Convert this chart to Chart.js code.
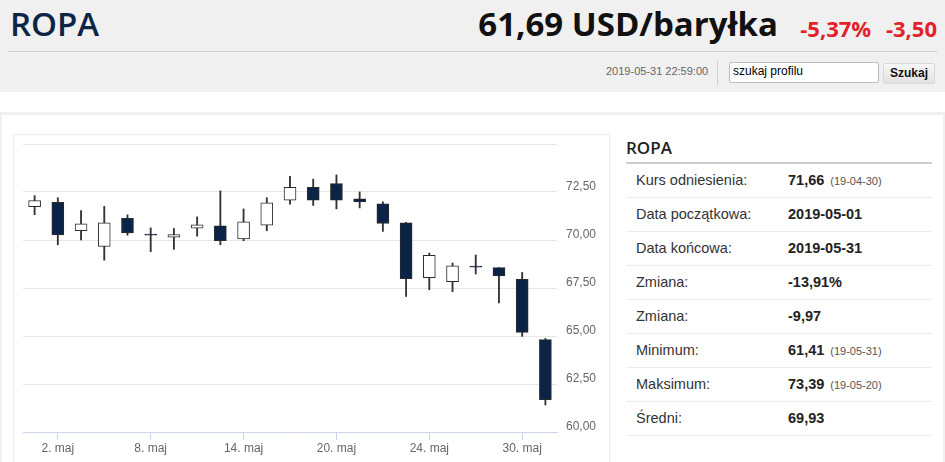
<!DOCTYPE html>
<html>
<head>
<meta charset="utf-8">
<script src="https://cdn.jsdelivr.net/npm/chart.js@4/dist/chart.umd.min.js"></script>
<style>
  body { margin: 0; width: 945px; height: 462px; overflow: hidden; background: #fff;
         font-family: "Liberation Sans", Arial, sans-serif; position: relative; }
  .abs { position: absolute; }
  #top { left: 0; top: 0; width: 945px; height: 92px; background: #f0f0f0; }
  #title { left: 10px; top: 0px; font: 600 33px "Open Sans", sans-serif; color: #0b2546; line-height: 48px; }
  #price { right: 167px; top: 0; font: 700 33px "Open Sans", sans-serif; color: #111; line-height: 48px; }
  #chg { right: 8px; top: 4px; font: 700 22px "Open Sans", sans-serif; color: #e3212a; line-height: 48px; word-spacing: 9px; }
  #hline { left: 8px; top: 51px; width: 929px; height: 1px; background: #cfcfcf; }
  #stamp { left: 606px; top: 65px; font-size: 11px; color: #666; }
  #vsep { left: 717px; top: 60px; width: 1px; height: 25px; background: #d0d0d0; }
  #search { left: 729px; top: 62px; background: #fff; border: 1px solid #bdbdbd;
            border-radius: 2px; font-size: 12px; line-height: 17px; padding-left: 3px; box-sizing: border-box; width: 150px; height: 21px; }
  #btn { left: 883px; top: 63px; width: 52px; height: 21px; background: linear-gradient(#f7f7f7, #e2e2e2);
         border: 1px solid #d8d8d8; border-radius: 2px; box-sizing: border-box; font-size: 12px; font-weight: bold;
         text-align: center; line-height: 19px; color: #111; }
  #frame { left: 0; top: 112px; width: 945px; height: 360px; box-sizing: border-box;
           border-top: 3px solid #f0f0f0; border-left: 2px solid #f0f0f0; border-right: 2px solid #f0f0f0; }
  #card { left: 13px; top: 134px; width: 597px; height: 340px; border: 1px solid #ececec; box-sizing: border-box; }
  #wrap { left: 14px; top: 135px; width: 594px; height: 327px; }
  #ptitle { left: 626px; top: 136px; font: 600 17px "Open Sans", sans-serif; color: #222; }
  #pline { left: 626px; top: 162px; width: 306px; height: 2px; background: #cccccc; }
  .row { position: absolute; left: 626px; width: 306px; height: 33px; border-bottom: 1px solid #ececec; }
  .row .l { position: absolute; left: 10px; top: 8px; font-size: 14.5px; color: #333; }
  .row .v { position: absolute; left: 162px; top: 8px; font-size: 14.5px; font-weight: bold; color: #222; }
  .row .d { font-size: 11px; font-weight: normal; color: #555; margin-left: 6px; }
</style>
</head>
<body>
<div id="top" class="abs"></div>
<div id="title" class="abs">ROPA</div>
<div id="price" class="abs">61,69 USD/baryłka</div>
<div id="chg" class="abs">-5,37% -3,50</div>
<div id="hline" class="abs"></div>
<div id="stamp" class="abs">2019-05-31 22:59:00</div>
<div id="vsep" class="abs"></div>
<div id="search" class="abs">szukaj profilu</div>
<div id="btn" class="abs">Szukaj</div>
<div id="frame" class="abs"></div>
<div id="card" class="abs"></div>
<div id="wrap" class="abs"><canvas id="myChart"></canvas></div>
<div id="ptitle" class="abs">ROPA</div>
<div id="pline" class="abs"></div>
<div id="rows"></div>
<script>
const days = ['1. maj', '2. maj', '3. maj', '6. maj', '7. maj', '8. maj', '9. maj', '10. maj',
        '13. maj', '14. maj', '15. maj', '16. maj', '17. maj', '20. maj', '21. maj', '22. maj',
        '23. maj', '24. maj', '27. maj', '28. maj', '29. maj', '30. maj', '31. maj'];
const open_v = [71.74, 71.96, 70.48, 69.66, 71.13, 70.31, 70.15, 70.61, 70.74, 70.06, 70.77, 72.08,
        72.74, 72.94, 72.14, 71.89, 70.89, 68.04, 67.83, 68.64, 68.56, 67.95, 64.81];
const close_v = [72.05, 70.27, 70.84, 70.89, 70.37, 70.25, 70.28, 70.79, 69.97, 70.94, 71.94, 72.74,
        72.08, 72.08, 71.98, 70.86, 67.98, 69.20, 68.65, 68.58, 68.13, 65.19, 61.69];
const high_v = [72.31, 72.20, 71.53, 71.75, 71.31, 70.63, 70.60, 71.20, 72.56, 71.62, 72.20, 73.31,
        73.17, 73.39, 72.50, 71.99, 70.92, 69.32, 68.80, 69.22, 68.57, 68.31, 64.87];
const low_v = [71.32, 69.75, 70.01, 68.95, 70.25, 69.39, 69.51, 70.20, 69.75, 69.96, 70.48, 71.86,
        71.80, 71.62, 71.67, 70.45, 67.06, 67.41, 67.31, 68.23, 66.72, 64.98, 61.41];
const y_ticks = [60, 62.5, 65, 67.5, 70, 72.5, 75];

// side table
const row_labels = ['Kurs odniesienia:', 'Data początkowa:', 'Data końcowa:', 'Zmiana:', 'Zmiana:',
        'Minimum:', 'Maksimum:', 'Średni:'];
const row_values = ['71,66', '2019-05-01', '2019-05-31', '-13,91%', '-9,97', '61,41', '73,39', '69,93'];
const row_dates = ['(19-04-30)', '', '', '', '', '(19-05-31)', '(19-05-20)', ''];

let html = '';
for (let i = 0; i < row_labels.length; i++) {
        html += '<div class="row" style="top:' + (164 + i * 34) + 'px"><span class="l">' + row_labels[i] +
                '</span><span class="v">' + row_values[i] +
                (row_dates[i] ? '<span class="d">' + row_dates[i] + '</span>' : '') + '</span></div>';
}
document.getElementById('rows').innerHTML = html;

const bodies = [];
const wicks = [];
const fills = [];
for (let i = 0; i < days.length; i++) {
        bodies.push([open_v[i], close_v[i]]);
        wicks.push([low_v[i], high_v[i]]);
        fills.push(close_v[i] >= open_v[i] ? '#ffffff' : '#0b2347');
}

const config = {
        type: 'bar',
        data: {
                labels: days,
                datasets: [{
                        data: bodies,
                        backgroundColor: fills,
                        borderColor: '#2b2b2b',
                        borderWidth: 1,
                        borderSkipped: false,
                        barThickness: 12,
                        grouped: false
                }, {
                        data: wicks,
                        backgroundColor: '#333333',
                        borderWidth: 0,
                        barThickness: 1.2,
                        grouped: false
                }]
        },
        options: {
                responsive: true,
                maintainAspectRatio: false,
                animation: false,
                layout: { padding: { left: 9, top: 9, right: 0, bottom: 0 } },
                plugins: { legend: { display: false }, tooltip: { enabled: false } },
                scales: {
                        x: {
                                offset: true,
                                afterFit: function(s) { s.height = 30; s.paddingLeft = 0; s.paddingRight = 0; },
                                border: { color: '#ccd6eb', width: 1 },
                                grid: {
                                        offset: false,
                                        drawOnChartArea: false,
                                        tickLength: 8,
                                        color: function(ctx) { return ctx.index % 4 === 1 ? '#ccd6eb' : 'rgba(0,0,0,0)'; }
                                },
                                ticks: {
                                        autoSkip: false,
                                        maxRotation: 0,
                                        padding: 1,
                                        color: '#666',
                                        font: { family: 'Liberation Sans', size: 12 },
                                        callback: function(v, i) { return i % 4 === 1 ? days[i] : ''; }
                                }
                        },
                        y: {
                                position: 'right',
                                min: 60,
                                max: 75,
                                afterFit: function(s) { s.width = 51; s.paddingTop = 0; s.paddingBottom = 0; },
                                afterBuildTicks: function(s) { s.ticks = y_ticks.map(function(v) { return { value: v }; }); },
                                border: { display: false },
                                grid: {
                                        drawTicks: false,
                                        color: function(ctx) { return ctx.tick && ctx.tick.value === 60 ? 'rgba(0,0,0,0)' : '#e6e6e6'; }
                                },
                                ticks: {
                                        padding: 9,
                                        labelOffset: -5,
                                        color: '#666',
                                        font: { family: 'Liberation Sans', size: 12 },
                                        callback: function(v) { return v === 75 ? '' : v.toFixed(2).replace('.', ','); }
                                }
                        }
                }
        }
};

const myChart = new Chart(document.getElementById('myChart'), config);
</script>
</body>
</html>
